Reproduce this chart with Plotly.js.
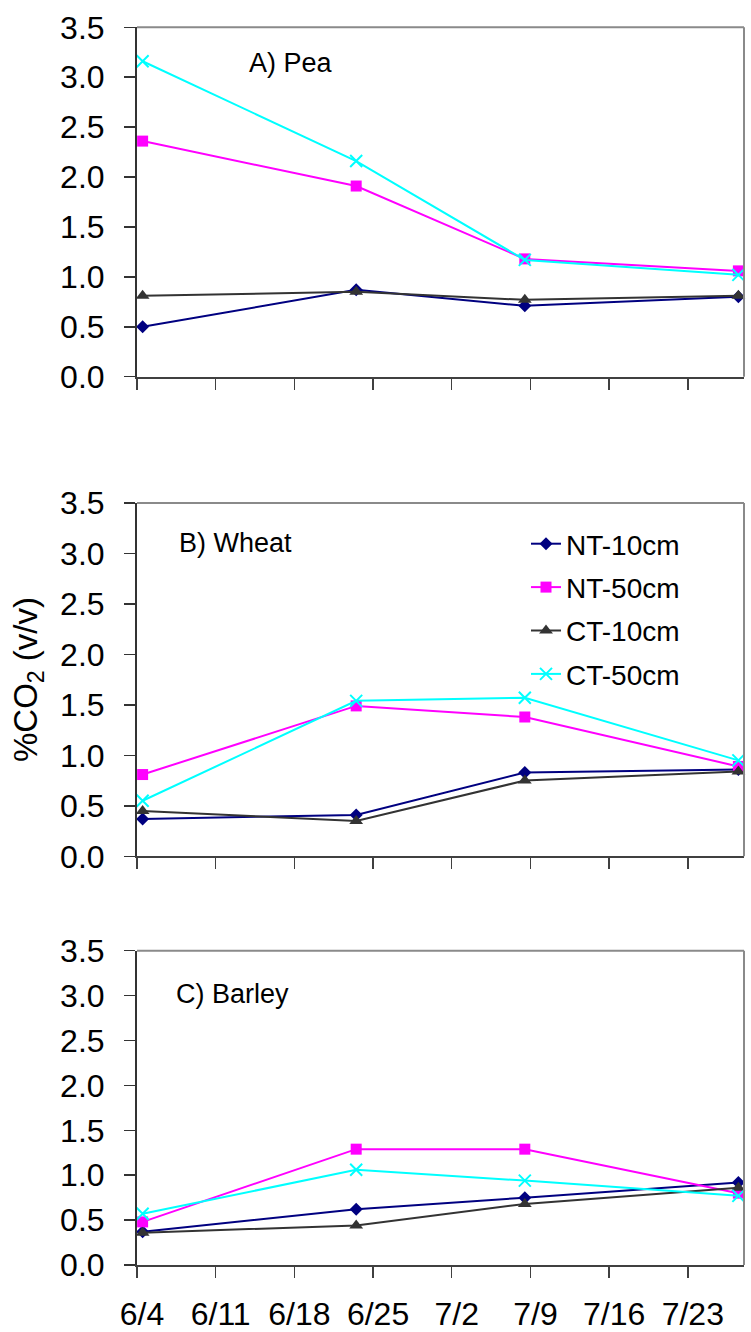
<!DOCTYPE html>
<html>
<head>
<meta charset="utf-8">
<script src="https://cdn.plot.ly/plotly-3.0.1.min.js"></script>
<style>
  html, body { margin: 0; padding: 0; background: #ffffff; }
  #chart { width: 751px; height: 1332px; }
</style>
</head>
<body>
<div id="chart"></div>
<script>
// ---- Data ----
const sampleDates = ['2000-06-04', '2000-06-23', '2000-07-08', '2000-07-27'];

const seriesNames = ['NT-10cm', 'NT-50cm', 'CT-10cm', 'CT-50cm'];

const peaNT10 = [0.50, 0.87, 0.71, 0.80];
const peaNT50 = [2.36, 1.91, 1.18, 1.06];
const peaCT10 = [0.81, 0.85, 0.77, 0.81];
const peaCT50 = [3.16, 2.16, 1.17, 1.02];

const wheatNT10 = [0.37, 0.41, 0.83, 0.86];
const wheatNT50 = [0.81, 1.49, 1.38, 0.89];
const wheatCT10 = [0.45, 0.35, 0.75, 0.84];
const wheatCT50 = [0.55, 1.54, 1.57, 0.95];

const barleyNT10 = [0.37, 0.62, 0.75, 0.92];
const barleyNT50 = [0.48, 1.29, 1.29, 0.80];
const barleyCT10 = [0.36, 0.44, 0.68, 0.86];
const barleyCT50 = [0.57, 1.06, 0.94, 0.77];

const panelLabels = ['A) Pea', 'B) Wheat', 'C) Barley'];

const tickDates = ['2000-06-04', '2000-06-11', '2000-06-18', '2000-06-25',
                   '2000-07-02', '2000-07-09', '2000-07-16', '2000-07-23'];
const tickTexts = ['6/4', '6/11', '6/18', '6/25', '7/2', '7/9', '7/16', '7/23'];

const yTitle = '%CO<sub>2</sub> (v/v)';

// ---- Styles ----
const FONT = 'Liberation Sans, Arial, Helvetica, sans-serif';
const styles = [
  {line: {color: '#000080', width: 2}, marker: {symbol: 'diamond', size: 10, color: '#000080'}},
  {line: {color: '#FF00FF', width: 2}, marker: {symbol: 'square', size: 11, color: '#FF00FF'}},
  {line: {color: '#333333', width: 2}, marker: {symbol: 'triangle-up', size: 12, color: '#333333'}},
  {line: {color: '#00FFFF', width: 2}, marker: {symbol: 'x-thin', size: 12, color: '#00FFFF', line: {color: '#00FFFF', width: 2}}}
];

// Excel date axis places points in the middle of each day slot
const xPts = sampleDates.map(d => d + ' 12:00');

const panels = [
  [peaNT10, peaNT50, peaCT10, peaCT50],
  [wheatNT10, wheatNT50, wheatCT10, wheatCT50],
  [barleyNT10, barleyNT50, barleyCT10, barleyCT50]
];

const traces = [];
panels.forEach((vals, p) => {
  vals.forEach((v, s) => {
    traces.push({
      type: 'scatter', mode: 'lines+markers',
      x: xPts, y: v,
      name: seriesNames[s],
      legendgroup: seriesNames[s],
      showlegend: p === 1,
      xaxis: p === 0 ? 'x' : 'x' + (p + 1),
      yaxis: p === 0 ? 'y' : 'y' + (p + 1),
      line: styles[s].line,
      marker: styles[s].marker,
      cliponaxis: false,
      hoverinfo: 'x+y+name'
    });
  });
});

const H = 1332, W = 751, L = 137, R = 7;
const PW = W - L - R;
const px2x = px => (px - L) / PW;
const py2y = py => 1 - py / H;

const yDomains = [
  [py2y(376.7), py2y(27.3)],
  [py2y(856.3), py2y(503)],
  [py2y(1265), py2y(950.7)]
];

function xAxis(showLabels, anchor) {
  return {
    type: 'date',
    range: ['2000-06-04', '2000-07-28'],
    domain: [0, 1],
    anchor: anchor,
    tickmode: 'array',
    tickvals: tickDates,
    ticktext: tickTexts,
    showticklabels: showLabels,
    ticks: 'outside', ticklen: 11, tickwidth: 1.5, tickcolor: '#404040',
    ticklabelstandoff: 9,
    ticklabelshift: 5,
    showline: true, linecolor: '#404040', linewidth: 2,
    showgrid: false, zeroline: false,
    tickfont: {family: FONT, size: 32, color: '#000000'},
    automargin: false,
    fixedrange: true
  };
}
function yAxis(dom, anchor) {
  return {
    range: [0, 3.5],
    domain: dom,
    anchor: anchor,
    dtick: 0.5, tick0: 0,
    tickformat: '.1f',
    ticks: 'outside', ticklen: 11, tickwidth: 1.5, tickcolor: '#333333',
    ticklabelstandoff: 13,
    showline: true, linecolor: '#333333', linewidth: 2,
    showgrid: false, zeroline: false,
    tickfont: {family: FONT, size: 32, color: '#000000'},
    automargin: false,
    fixedrange: true
  };
}

const shapes = [];
['', '2', '3'].forEach(k => {
  const xr = 'x' + k + ' domain', yr = 'y' + k + ' domain';
  shapes.push({type: 'line', xref: xr, yref: yr, x0: 0, x1: 1, y0: 1, y1: 1,
               line: {color: '#8a8a8a', width: 2}});
  shapes.push({type: 'line', xref: xr, yref: yr, x0: 1, x1: 1, y0: 0, y1: 1,
               line: {color: '#8a8a8a', width: 2}});
});

const labelPos = [[247, 63], [177, 543], [174, 994]];
const annotations = panelLabels.map((t, i) => ({
  text: t, xref: 'paper', yref: 'paper',
  x: px2x(labelPos[i][0]), y: py2y(labelPos[i][1]),
  xanchor: 'left', yanchor: 'middle', showarrow: false,
  font: {family: FONT, size: 27, color: '#000000'}
}));
annotations.push({
  text: yTitle, xref: 'paper', yref: 'paper',
  x: px2x(28), y: py2y(680),
  xanchor: 'center', yanchor: 'middle', showarrow: false, textangle: -90,
  font: {family: FONT, size: 33, color: '#000000'}
});

const layout = {
  width: W, height: H,
  margin: {l: L, r: R, t: 0, b: 0, pad: 0},
  paper_bgcolor: '#ffffff', plot_bgcolor: '#ffffff',
  font: {family: FONT, color: '#000000'},
  xaxis: xAxis(false, 'y'),
  xaxis2: xAxis(false, 'y2'),
  xaxis3: xAxis(true, 'y3'),
  yaxis: yAxis(yDomains[0], 'x'),
  yaxis2: yAxis(yDomains[1], 'x2'),
  yaxis3: yAxis(yDomains[2], 'x3'),
  showlegend: true,
  legend: {
    x: px2x(526), y: py2y(519), xanchor: 'left', yanchor: 'top',
    bgcolor: 'rgba(0,0,0,0)', borderwidth: 0,
    font: {family: FONT, size: 28, color: '#000000'},
    traceorder: 'grouped', tracegroupgap: 4,
    itemclick: false, itemdoubleclick: false
  },
  shapes: shapes,
  annotations: annotations
};

Plotly.newPlot('chart', traces, layout, {displayModeBar: false, staticPlot: true});
</script>
</body>
</html>
